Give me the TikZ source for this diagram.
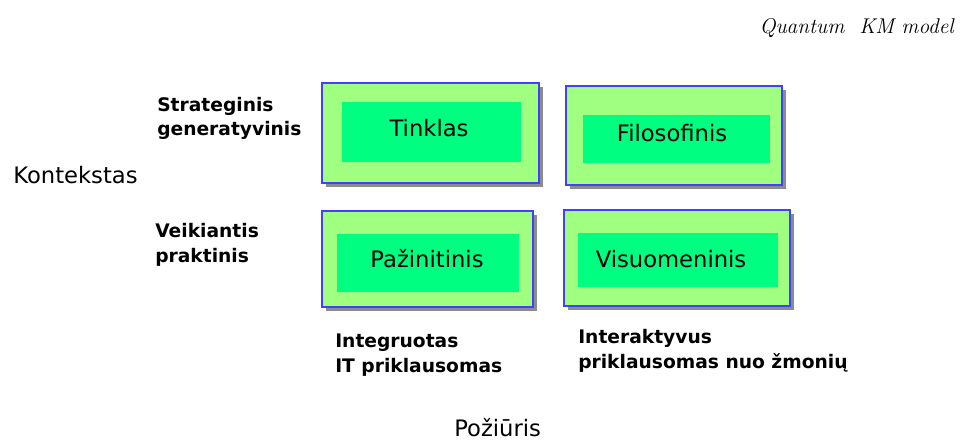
\documentclass[tikz,border=0pt]{standalone}
\usepackage{fontspec}
\newfontfamily\dv{DejaVu Sans}
\definecolor{outerg}{RGB}{160,255,128}
\definecolor{innerg}{RGB}{0,255,128}
\definecolor{bblue}{RGB}{64,64,255}
\definecolor{shad}{RGB}{140,140,140}
\tikzset{
  outerbox/.style={fill=outerg, draw=bblue, line width=1.4pt},
  innerbox/.style={fill=innerg},
  shadowbox/.style={fill=shad},
  boxlabel/.style={anchor=base, inner sep=0pt, font=\dv\fontsize{17}{20}\selectfont},
  sidelabel/.style={anchor=base west, inner sep=0pt, align=left, font=\dv\bfseries\fontsize{14}{18.5}\selectfont},
  axislabel/.style={anchor=base west, inner sep=0pt, font=\dv\fontsize{17}{20}\selectfont}
}
\begin{document}
\begin{tikzpicture}[x=0.75pt,y=-0.75pt]
\useasboundingbox (0,0) rectangle (963,442);
% title
\node[anchor=base east, inner sep=0pt, font=\itshape\fontsize{16}{19}\selectfont] (title) at (954,34) {Quantum\ \ KM model};
% box 1
\fill[shadowbox] (326,87) rectangle (543,187);
\draw[outerbox] (322,83) rectangle (539,183);
\fill[innerbox] (342,102) rectangle (521,162);
\node[boxlabel] (tinklas) at (429,137) {Tinklas};
% box 2
\fill[shadowbox] (570,90) rectangle (786,189);
\draw[outerbox] (566,86) rectangle (782,185);
\fill[innerbox] (583,115) rectangle (770,163);
\node[boxlabel] (filos) at (672,142) {Filosofinis};
% box 3
\fill[shadowbox] (326,215) rectangle (537,311);
\draw[outerbox] (322,211) rectangle (533,307);
\fill[innerbox] (337,234) rectangle (519,292);
\node[boxlabel] (pazin) at (427,267) {Pažinitinis};
% box 4
\fill[shadowbox] (568,214) rectangle (794,310);
\draw[outerbox] (564,210) rectangle (790,306);
\fill[innerbox] (578,233) rectangle (778,287);
\node[boxlabel] (visuo) at (671,267) {Visuomeninis};
% side labels (anchor is the baseline of the last line)
\node[sidelabel] (strat) at (157,136) {Strateginis\\generatyvinis};
\node[sidelabel] (veik) at (155,262) {Veikiantis\\praktinis};
\node[sidelabel] (integ) at (335,372) {Integruotas\\IT priklausomas};
\node[sidelabel] (inter) at (578,368) {Interaktyvus\\priklausomas nuo žmonių};
% axis labels
\node[axislabel] (kont) at (13,183) {Kontekstas};
\node[axislabel] (poz) at (454,436) {Požiūris};
\end{tikzpicture}
\end{document}
